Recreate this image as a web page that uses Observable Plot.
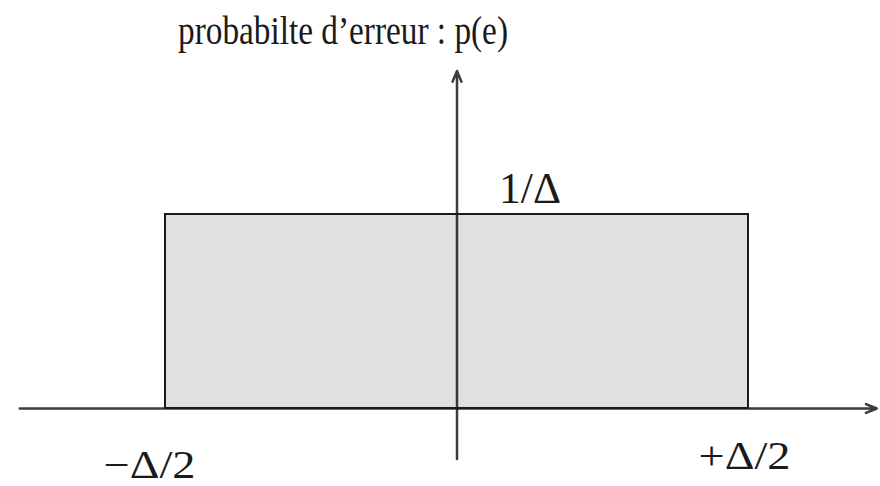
<!DOCTYPE html>
<html>
<head>
<meta charset="utf-8">
<script src="https://cdn.jsdelivr.net/npm/d3@7"></script>
<script src="https://cdn.jsdelivr.net/npm/@observablehq/plot@0.6"></script>
<style>
  html, body { margin: 0; padding: 0; background: #fff; }
  svg text { font-family: "Liberation Serif", "DejaVu Serif", serif; }
</style>
</head>
<body>
<div id="chart"></div>
<script>
// Quantization error: uniform density on [-Δ/2, +Δ/2] with height 1/Δ (Δ = 1)
const delta = 1;
const support = [-delta / 2, delta / 2];
const density = [1 / delta];

// Axis extents (in data units) for the arrowed axes
const xAxisExtent = [-0.75, 0.72];
const yAxisExtent = [-0.26, 1.74];

// Text
const titleText = "probabilte d\u2019erreur : p(e)";
const heightLabel = "1/\u0394";
const boundLabels = ["\u2212\u0394/2", "+\u0394/2"];

const ink = "#1a1a1a";

const plot = Plot.plot({
  width: 880,
  height: 486,
  marginLeft: 165,
  marginRight: 132,
  marginTop: 214,
  marginBottom: 78,
  x: {domain: support, axis: null},
  y: {domain: [0, density[0]], axis: null},
  marks: [
    // the density rectangle
    Plot.rect(density, {
      x1: support[0], x2: support[1], y1: 0, y2: d => d,
      fill: "#e0e0e0", stroke: ink, strokeWidth: 2
    }),
    // horizontal axis with arrow
    Plot.arrow([0], {
      x1: xAxisExtent[0], x2: xAxisExtent[1], y1: 0, y2: 0,
      stroke: ink, strokeWidth: 2.5, headLength: 7, headAngle: 45, strokeOpacity: 0.85
    }),
    // vertical axis with arrow
    Plot.arrow([0], {
      x1: 0, x2: 0, y1: yAxisExtent[0], y2: yAxisExtent[1],
      stroke: ink, strokeWidth: 2.5, headLength: 7, headAngle: 45, strokeOpacity: 0.85
    }),
    // title above the vertical axis
    Plot.text([titleText], {
      x: 0, y: yAxisExtent[1], text: d => d,
      textAnchor: "middle", lineAnchor: "bottom",
      dx: -114, dy: -27, fontSize: 41, fill: ink
    }),
    // height of the density
    Plot.text([heightLabel], {
      x: 0, y: density[0], text: d => d,
      textAnchor: "start", lineAnchor: "bottom",
      dx: 42, dy: -12, fontSize: 44, fill: ink
    }),
    // bounds of the support
    Plot.text([boundLabels[0]], {
      x: support[0], y: 0, text: d => d,
      textAnchor: "middle", lineAnchor: "bottom",
      dx: -16, dy: 69, fontSize: 40, fill: ink
    }),
    Plot.text([boundLabels[1]], {
      x: support[1], y: 0, text: d => d,
      textAnchor: "middle", lineAnchor: "bottom",
      dx: -4, dy: 60, fontSize: 40, fill: ink
    })
  ]
});

// narrow the tall serif lettering to its set widths
const setWidths = new Map([
  [titleText, 330],
  [heightLabel, 62],
  [boundLabels[0], 92],
  [boundLabels[1], 92]
]);
d3.select(plot).selectAll("text").each(function () {
  const w = setWidths.get(this.textContent);
  if (w) {
    this.setAttribute("textLength", w);
    this.setAttribute("lengthAdjust", "spacingAndGlyphs");
  }
});

document.getElementById("chart").appendChild(plot);
</script>
</body>
</html>
